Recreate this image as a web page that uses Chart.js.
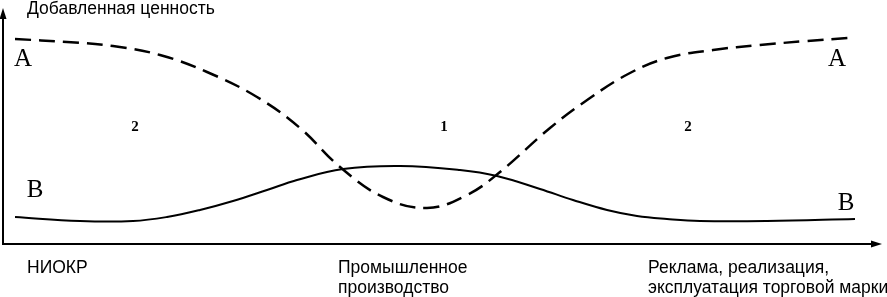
<!DOCTYPE html>
<html>
<head>
<meta charset="utf-8">
<script src="https://cdn.jsdelivr.net/npm/chart.js@4"></script>
<style>
    body { margin: 0; background: #fff; }
    canvas { display: block; }
</style>
</head>
<body>
<canvas id="verdiGraf" width="887" height="297"></canvas>
<script>
// Кривая A (пунктир)
const kurveAx = [12, 64, 110, 157, 204, 254, 297, 337, 380, 424, 464, 497, 547, 587, 627, 664, 710, 757, 804, 845];
const kurveAy = [205, 202, 198, 189, 172, 147, 116, 77, 47, 36, 49, 72, 116, 146, 171, 186, 194, 199, 203, 206];

// Кривая B (сплошная)
const kurveBx = [12, 77, 130, 164, 197, 230, 264, 294, 340, 397, 457, 494, 537, 570, 604, 634, 664, 697, 764, 852];
const kurveBy = [27, 23, 23, 27, 34, 43, 54, 64, 75, 78, 74, 68, 55, 44, 34, 28, 25, 23, 23, 25];

// Подписи на поле графика
const merkeTekst = ['A', 'A', 'B', 'B', '2', '1', '2'];
const merkeX = [20, 834, 32, 843, 132, 441, 685];
const merkeY = [185, 185, 54, 41, 117, 117, 117];

// Подписи под осью X
const kategorier = [['НИОКР'], ['Промышленное', 'производство'], ['Реклама, реализация,', 'эксплуатация торговой марки']];
const kategoriX = [24, 335, 645];

const aksetittel = 'Добавленная ценность';

function tilPunkter(xs, ys) {
    return xs.map((x, i) => ({ x: x, y: ys[i] }));
}

// Оси со стрелками и все тексты
const tegnPlugin = {
    id: 'tegnPlugin',
    afterDraw(chart) {
        const ctx = chart.ctx;
        const a = chart.chartArea;
        const sx = chart.scales.x;
        const sy = chart.scales.y;
        ctx.save();
        ctx.strokeStyle = '#000';
        ctx.fillStyle = '#000';
        ctx.lineWidth = 2;

        // ось Y
        ctx.beginPath();
        ctx.moveTo(a.left, a.bottom + 1);
        ctx.lineTo(a.left, a.top + 8);
        ctx.stroke();
        ctx.beginPath();
        ctx.moveTo(a.left, a.top);
        ctx.lineTo(a.left - 3.5, a.top + 11);
        ctx.lineTo(a.left + 3.5, a.top + 11);
        ctx.closePath();
        ctx.fill();

        // ось X
        ctx.beginPath();
        ctx.moveTo(a.left - 1, a.bottom);
        ctx.lineTo(a.right - 8, a.bottom);
        ctx.stroke();
        ctx.beginPath();
        ctx.moveTo(a.right, a.bottom);
        ctx.lineTo(a.right - 11, a.bottom - 3.5);
        ctx.lineTo(a.right - 11, a.bottom + 3.5);
        ctx.closePath();
        ctx.fill();

        // буквы и цифры
        ctx.textAlign = 'center';
        ctx.textBaseline = 'middle';
        merkeTekst.forEach((t, i) => {
            if (t === 'A' || t === 'B') {
                ctx.font = '25px "Liberation Serif", serif';
            } else {
                ctx.font = 'bold 15px "Liberation Serif", serif';
            }
            ctx.fillText(t, sx.getPixelForValue(merkeX[i]), sy.getPixelForValue(merkeY[i]));
        });

        // заголовок оси
        ctx.font = '17.5px "Liberation Sans", Arial, sans-serif';
        ctx.textAlign = 'left';
        ctx.textBaseline = 'alphabetic';
        ctx.fillText(aksetittel, a.left + 24, 14);

        // подписи этапов
        kategorier.forEach((linjer, i) => {
            linjer.forEach((l, j) => {
                ctx.fillText(l, sx.getPixelForValue(kategoriX[i]), a.bottom + 29 + j * 20);
            });
        });
        ctx.restore();
    }
};

let grafConfig = {
    type: 'line',
    data: {
        datasets: [{
            label: 'A',
            data: tilPunkter(kurveAx, kurveAy),
            borderColor: '#000',
            borderWidth: 2.5,
            borderDash: [16, 8],
            tension: 0.4,
            pointRadius: 0,
            fill: false
        }, {
            label: 'B',
            data: tilPunkter(kurveBx, kurveBy),
            borderColor: '#000',
            borderWidth: 2,
            tension: 0.4,
            pointRadius: 0,
            fill: false
        }]
    },
    options: {
        responsive: false,
        animation: false,
        layout: {
            padding: { left: 3, right: 5, top: 8, bottom: 53 }
        },
        plugins: {
            legend: { display: false },
            tooltip: { enabled: false }
        },
        scales: {
            x: { type: 'linear', min: 0, max: 879, display: false },
            y: { type: 'linear', min: 0, max: 236, display: false }
        }
    },
    plugins: [tegnPlugin]
};

let verdiGraf = new Chart(document.getElementById('verdiGraf'), grafConfig);
</script>
</body>
</html>
